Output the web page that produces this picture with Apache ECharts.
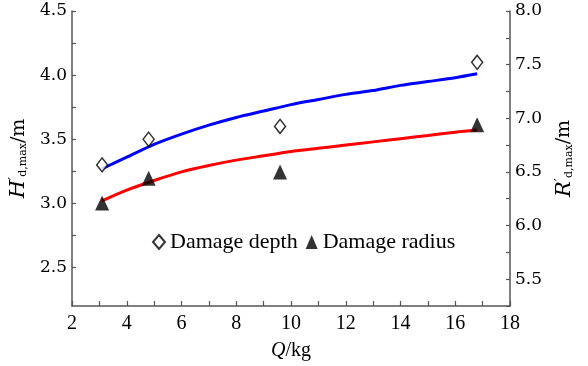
<!DOCTYPE html>
<html>
<head>
<meta charset="utf-8">
<script src="https://cdn.jsdelivr.net/npm/echarts@6/dist/echarts.min.js"></script>
<style>
  html, body { margin: 0; padding: 0; background: #fff; }
  #chart { width: 588px; height: 366px; }
</style>
</head>
<body>
<div id="chart"></div>
<script>
// measured points
var qPoints = [3.1, 4.8, 9.6, 16.8];
var depthPoints = [3.3, 3.5, 3.6, 4.1];
var radiusPoints = [6.21, 6.44, 6.5, 6.94];

// fitted curves
var fitQ = [3.1, 4, 5, 6, 7, 8, 9, 10, 11, 12, 13, 14, 15, 16, 16.8];
var depthFit = [3.27, 3.36, 3.46, 3.54, 3.61, 3.67, 3.72, 3.77, 3.81, 3.85, 3.88, 3.92, 3.95, 3.98, 4.01];
var radiusFit = [6.23, 6.33, 6.42, 6.50, 6.56, 6.61, 6.65, 6.69, 6.72, 6.75, 6.78, 6.81, 6.84, 6.87, 6.89];

var xTicks = [2, 4, 6, 8, 10, 12, 14, 16, 18];
var leftLabels = [2.5, 3.0, 3.5, 4.0, 4.5];
var leftTicks = [2.5, 2.75, 3.0, 3.25, 3.5, 3.75, 4.0, 4.25, 4.5];
var rightLabels = [5.5, 6.0, 6.5, 7.0, 7.5, 8.0];

function pairs(xs, ys) {
    var out = [];
    for (var i = 0; i < xs.length; i++) {
        out.push([xs[i], ys[i]]);
    }
    return out;
}

var chart = echarts.init(document.getElementById('chart'));

var axisColor = '#555';
var serif = 'Liberation Serif';
var cmLike = 'DejaVu Serif';

var option = {
    backgroundColor: '#fff',
    animation: false,
    grid: {
        left: 72,
        right: 78,
        top: 11,
        bottom: 59
    },
    legend: {
        left: 152,
        top: 231,
        padding: 0,
        itemWidth: 12,
        itemHeight: 14,
        itemGap: 8,
        textStyle: {
            fontFamily: serif,
            fontSize: 22,
            color: '#000'
        },
        data: ['Damage depth', 'Damage radius']
    },
    xAxis: {
        type: 'value',
        min: 2,
        max: 18,
        interval: 2,
        name: '{i|Q}/kg',
        nameLocation: 'middle',
        nameGap: 35,
        nameTextStyle: {
            fontFamily: serif,
            fontSize: 20,
            color: '#000',
            rich: {
                i: { fontFamily: serif, fontSize: 20, fontStyle: 'italic', color: '#000' }
            }
        },
        axisLine: { lineStyle: { color: axisColor, width: 1.5 } },
        axisTick: { inside: true, length: 5, lineStyle: { color: axisColor, width: 1.2 } },
        minorTick: { show: true, splitNumber: 2, length: 5, lineStyle: { color: axisColor, width: 1.2 } },
        axisLabel: {
            margin: 8,
            fontFamily: serif,
            fontSize: 20,
            color: '#000',
            customValues: xTicks
        },
        splitLine: { show: false }
    },
    yAxis: [
        {
            type: 'value',
            min: 2.2,
            max: 4.5,
            name: '{i|H}{p|′}{s|d,max}/m',
            nameLocation: 'middle',
            nameGap: 39,
            nameRotate: 90,
            nameTextStyle: {
                fontFamily: cmLike,
                fontSize: 19,
                color: '#000',
                rich: {
                    i: { fontFamily: cmLike, fontSize: 21, fontStyle: 'italic', color: '#000' },
                    p: { fontFamily: cmLike, fontSize: 14, color: '#000', verticalAlign: 'top' },
                    s: { fontFamily: cmLike, fontSize: 11, color: '#000', verticalAlign: 'bottom' }
                }
            },
            axisLine: { show: true, lineStyle: { color: axisColor, width: 1.5 } },
            axisTick: {
                inside: true,
                length: 4,
                customValues: leftTicks,
                lineStyle: { color: axisColor, width: 1.2 }
            },
            axisLabel: {
                margin: 5,
                fontFamily: cmLike,
                fontSize: 17,
                color: '#000',
                customValues: leftLabels,
                formatter: function (v) { return v.toFixed(1); }
            },
            splitLine: { show: false }
        },
        {
            type: 'value',
            min: 5.25,
            max: 8,
            interval: 0.25,
            position: 'right',
            name: '{i|R}{p|′}{s|d,max}/m',
            nameLocation: 'middle',
            nameGap: 44,
            nameRotate: 90,
            nameTextStyle: {
                fontFamily: cmLike,
                fontSize: 19,
                color: '#000',
                rich: {
                    i: { fontFamily: cmLike, fontSize: 21, fontStyle: 'italic', color: '#000' },
                    p: { fontFamily: cmLike, fontSize: 14, color: '#000', verticalAlign: 'top' },
                    s: { fontFamily: cmLike, fontSize: 11, color: '#000', verticalAlign: 'bottom' }
                }
            },
            axisLine: { show: true, lineStyle: { color: axisColor, width: 1.5 } },
            axisTick: { inside: true, length: 4, lineStyle: { color: axisColor, width: 1.2 } },
            axisLabel: {
                margin: 5,
                fontFamily: cmLike,
                fontSize: 17,
                color: '#000',
                customValues: rightLabels,
                formatter: function (v) { return v.toFixed(1); }
            },
            splitLine: { show: false }
        }
    ],
    series: [
        {
            name: 'depth fit',
            type: 'line',
            yAxisIndex: 0,
            showSymbol: false,
            smooth: 0.3,
            lineStyle: { color: '#0000ff', width: 3 },
            data: pairs(fitQ, depthFit),
            z: 2
        },
        {
            name: 'radius fit',
            type: 'line',
            yAxisIndex: 1,
            showSymbol: false,
            smooth: 0.3,
            lineStyle: { color: '#ff0000', width: 3 },
            data: pairs(fitQ, radiusFit),
            z: 2
        },
        {
            name: 'Damage depth',
            type: 'scatter',
            yAxisIndex: 0,
            symbol: 'diamond',
            symbolSize: [11, 14],
            itemStyle: { color: '#fff', borderColor: '#000', borderWidth: 1.5 },
            data: pairs(qPoints, depthPoints),
            z: 5
        },
        {
            name: 'Damage radius',
            type: 'scatter',
            yAxisIndex: 1,
            symbol: 'triangle',
            symbolSize: [14, 15],
            itemStyle: { color: '#000' },
            data: pairs(qPoints, radiusPoints),
            z: 5
        }
    ]
};

chart.setOption(option);
</script>
</body>
</html>
